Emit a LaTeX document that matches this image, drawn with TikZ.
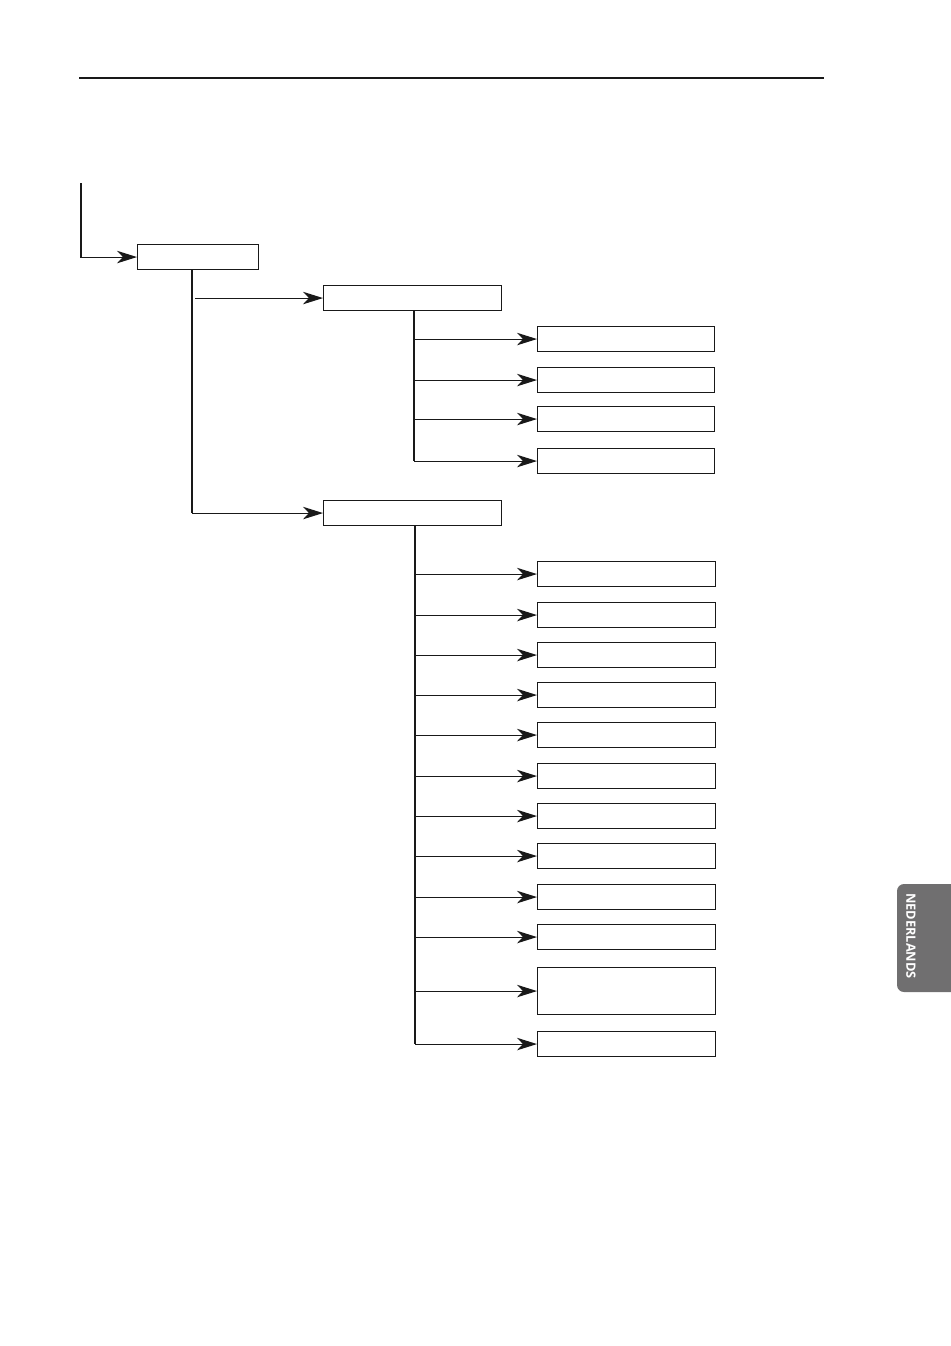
\documentclass[tikz,border=0pt]{standalone}
\usepackage{fontspec}
\newfontfamily\tabfont{Open Sans}
\usepackage{xcolor}
\usetikzlibrary{arrows.meta}
\definecolor{tabgrijs}{RGB}{112,111,112}
\tikzset{
  vak/.style={rectangle,draw=black!90,line width=1.1pt,inner sep=0pt,
    minimum width=178pt,minimum height=25pt,anchor=north west},
  kop/.style={vak,minimum width=121pt},
  lijn/.style={line width=1.1pt,black!90},
  pijl/.style={lijn,-{Stealth[length=20pt,width=12.5pt,inset=6pt]}}
}
\begin{document}
\begin{tikzpicture}[x=1pt,y=-1pt]
  \useasboundingbox (0,0) rectangle (950,1346);
  \draw[line width=1.3pt,black!90] (79,78) -- (824,78);
  % menu tree
  \node[kop] (vA) at (137,244) {};
  \node[vak] (vB1) at (323,285) {};
  \node[vak] (vB2) at (323,500) {};
  \foreach \i/\y in {1/326,2/367,3/406,4/448}
    \node[vak,minimum width=177pt] (vC\i) at (537,\y) {};
  \foreach \i/\y in {1/561,2/602,3/642,4/682,5/722,6/763,7/803,8/843,9/884,10/924,12/1031}
    \node[vak] (vD\i) at (537,\y) {};
  \node[vak,minimum height=47pt] (vD11) at (537,967) {};
  \coordinate (start) at (81,183);
  \coordinate (sA) at (192,0);
  \coordinate (sB1) at (414,0);
  \coordinate (sB2) at (415,0);
  \draw[pijl] (start) |- (vA.west);
  \draw[lijn] (vA.south -| sA) -- (sA |- vB2.west);
  \draw[pijl] ([xshift=3pt]sA |- vB1.west) -- (vB1.west);
  \draw[pijl] (sA |- vB2.west) -- (vB2.west);
  \draw[lijn] (vB1.south -| sB1) -- (sB1 |- vC4.west);
  \foreach \i in {1,...,4}
    \draw[pijl] (sB1 |- vC\i.west) -- (vC\i.west);
  \draw[lijn] (vB2.south -| sB2) -- (sB2 |- vD12.west);
  \foreach \i in {1,...,12}
    \draw[pijl] (sB2 |- vD\i.west) -- (vD\i.west);
  % language tab
  \fill[tabgrijs,rounded corners=7pt] (960,884) rectangle (897,992);
  \node[rotate=-90,text=white,font=\tabfont\bfseries\fontsize{12.8}{15}\selectfont,
    inner sep=0pt] (taal) at (911,936) {NEDERLANDS};
\end{tikzpicture}
\end{document}
